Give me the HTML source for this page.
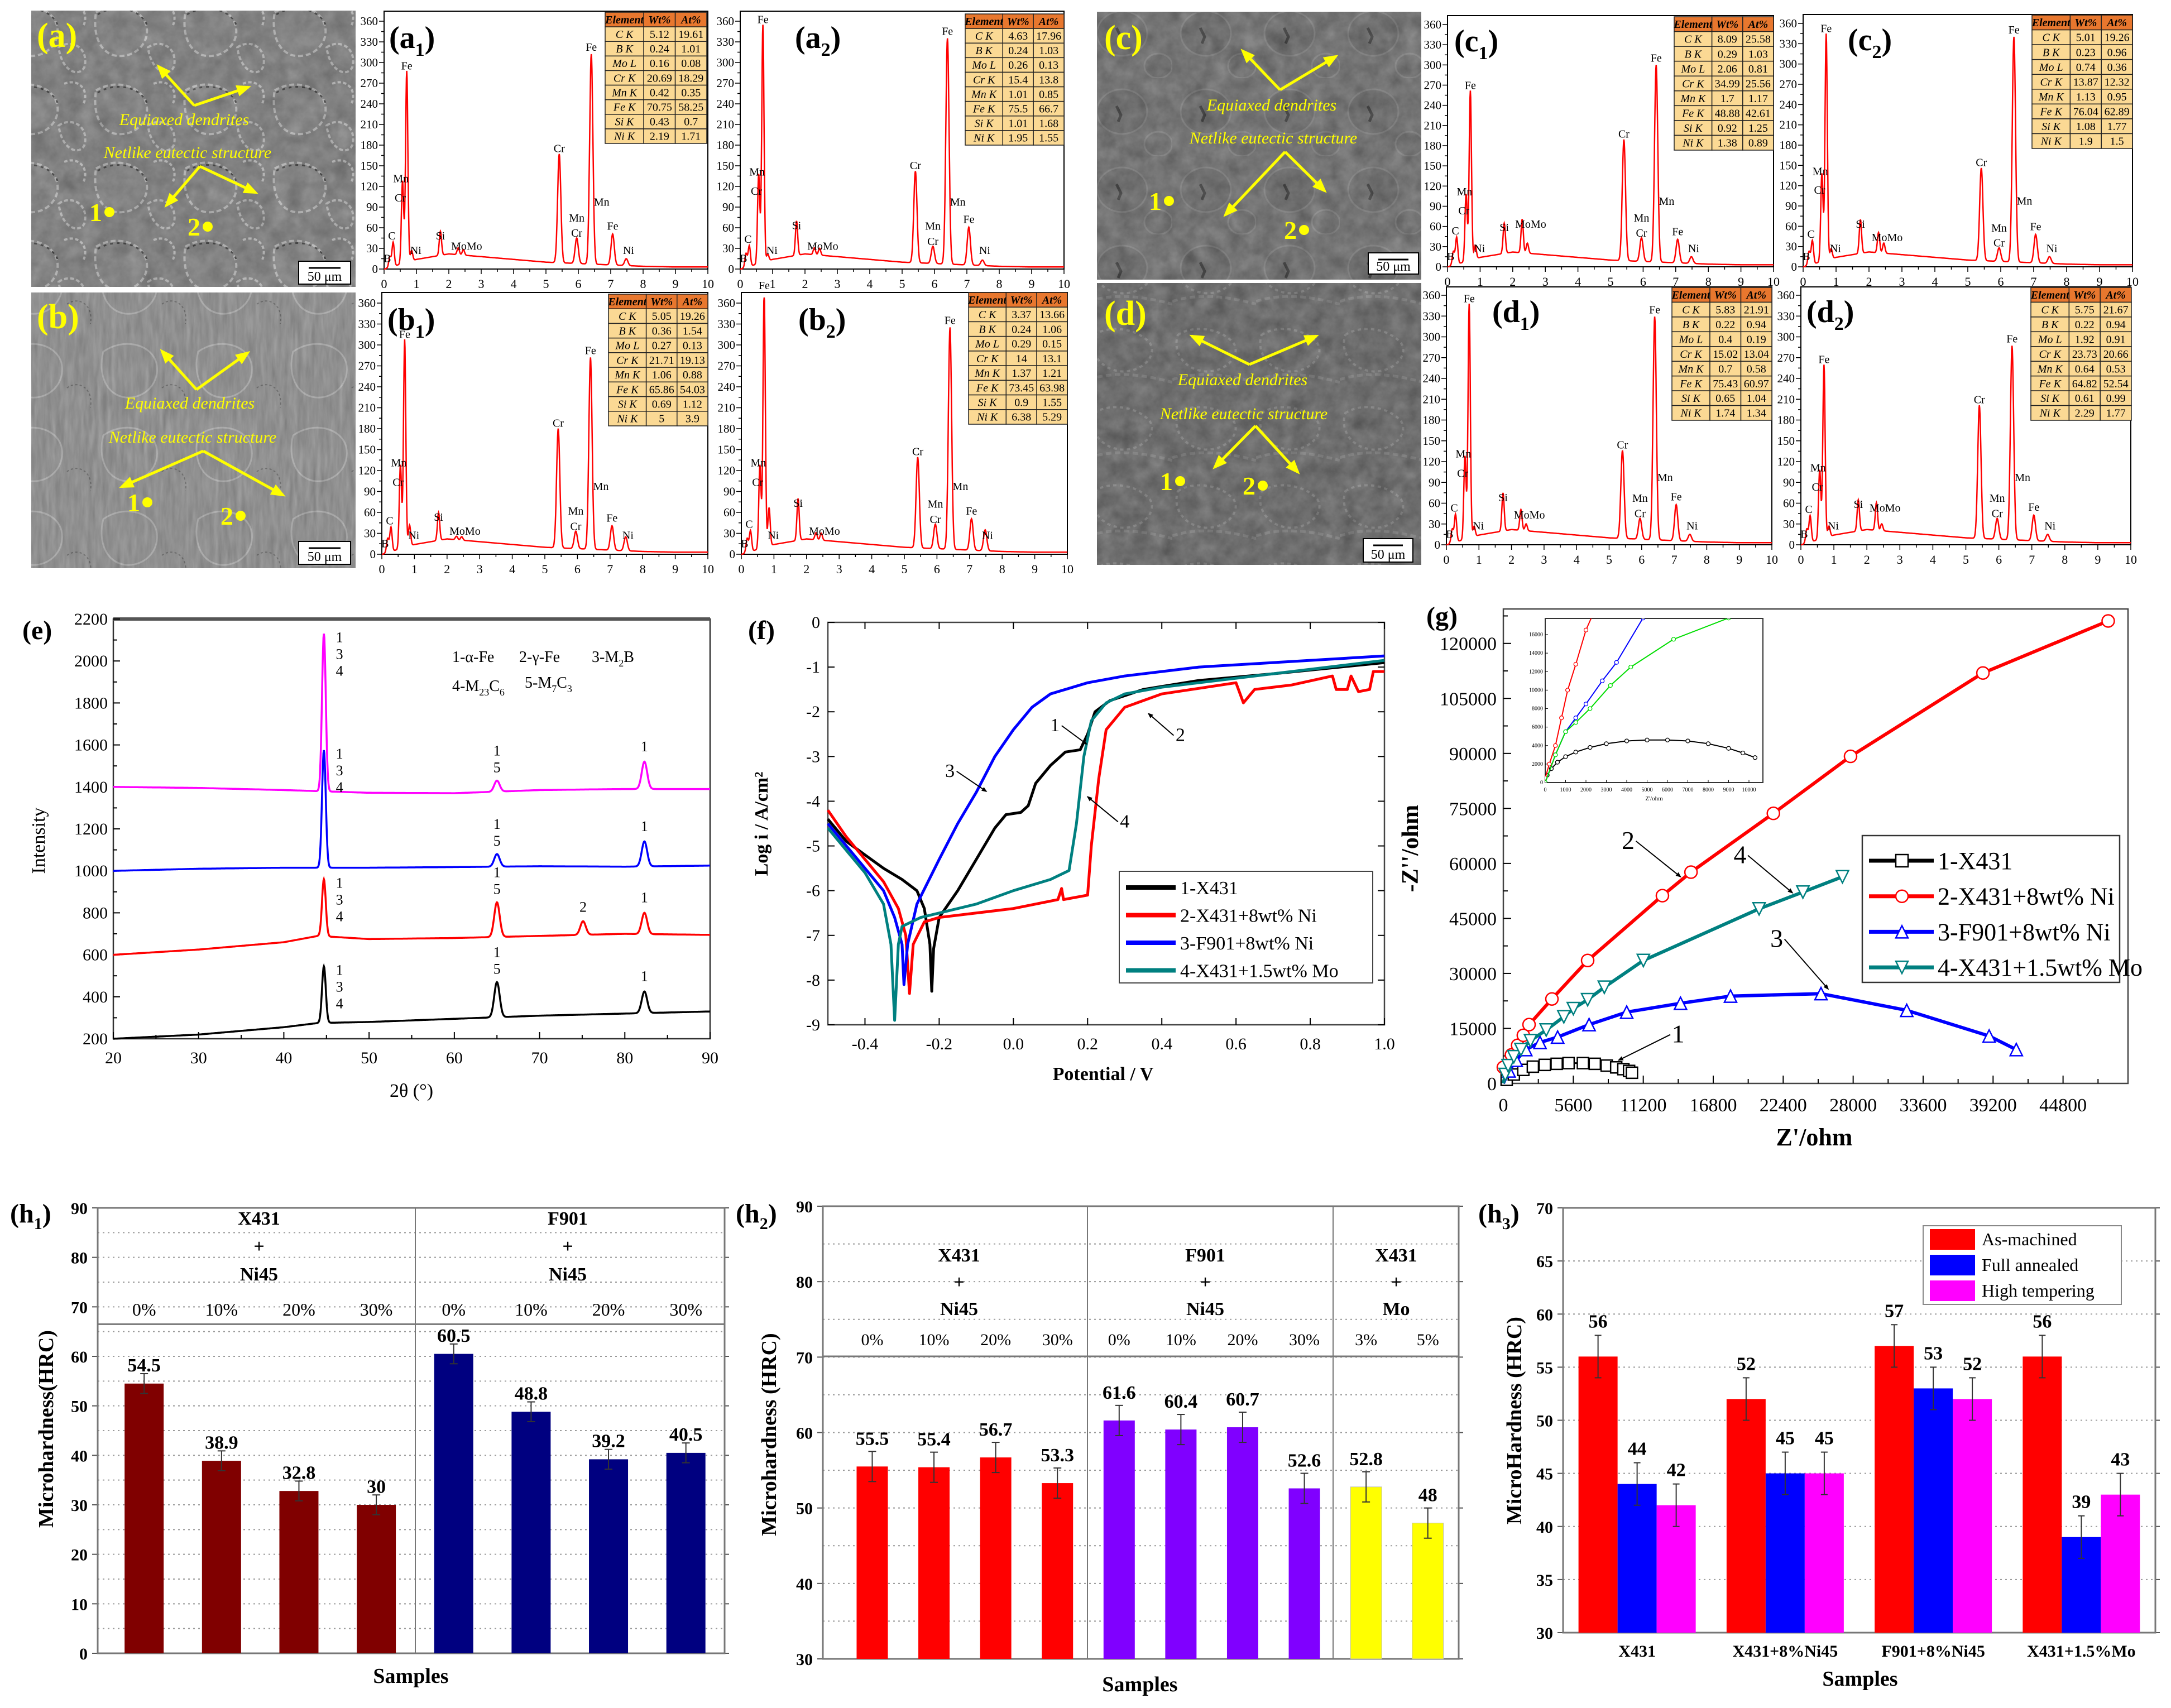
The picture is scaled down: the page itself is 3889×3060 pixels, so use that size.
<!DOCTYPE html>
<html><head><meta charset="utf-8">
<style>html,body{margin:0;padding:0;background:#fff;width:3889px;height:3060px;overflow:hidden}svg{display:block}</style>
</head><body>
<svg id="fig" xmlns="http://www.w3.org/2000/svg" width="3889" height="3060" viewBox="0 0 3889 3060" font-family="'Liberation Serif', serif">
<defs>
<marker id="arrowBlack" markerWidth="10" markerHeight="10" refX="8" refY="5" orient="auto" markerUnits="userSpaceOnUse" viewBox="0 0 10 10"><path d="M0,1 L10,5 L0,9 Z" fill="#000"/></marker>
<marker id="arrowYellow" viewBox="0 0 10 10" markerWidth="26" markerHeight="26" refX="8" refY="5" orient="auto" markerUnits="userSpaceOnUse"><path d="M0,1 L10,5 L0,9 Z" fill="#ffff00"/></marker>
<filter id="noise" x="0" y="0" width="100%" height="100%" color-interpolation-filters="sRGB">
<feTurbulence type="fractalNoise" baseFrequency="0.035" numOctaves="4" seed="7"/>
<feColorMatrix type="matrix" values="0.33 0.33 0.33 0 -0.05  0.33 0.33 0.33 0 -0.05  0.33 0.33 0.33 0 -0.05  0 0 0 0 1"/>
</filter>
<filter id="noiseFine" x="0" y="0" width="100%" height="100%" color-interpolation-filters="sRGB">
<feTurbulence type="fractalNoise" baseFrequency="0.12 0.02" numOctaves="3" seed="11"/>
<feColorMatrix type="matrix" values="0.33 0.33 0.33 0 0  0.33 0.33 0.33 0 0  0.33 0.33 0.33 0 0  0 0 0 0 1"/>
</filter>
<pattern id="semA" width="160" height="140" patternUnits="userSpaceOnUse">
<rect width="160" height="140" fill="#878787"/>
<path d="M12,22 C45,2 88,12 100,40 C112,68 90,98 60,100 C28,104 4,74 12,22Z" fill="#8c8c8c" stroke="#c9c9c9" stroke-width="4" stroke-dasharray="9 5"/>
<path d="M12,22 C45,2 88,12 100,40" fill="none" stroke="#3a3a3a" stroke-width="3" stroke-dasharray="5 7" transform="translate(3,4)"/>
<path d="M105,85 C125,70 158,82 152,118 C146,138 112,134 105,85Z" fill="none" stroke="#c8c8c8" stroke-width="4" stroke-dasharray="7 4"/>
<path d="M115,10 C140,0 160,20 150,45" fill="none" stroke="#cfcfcf" stroke-width="4" stroke-dasharray="6 4"/>
</pattern>
<pattern id="semB" width="170" height="150" patternUnits="userSpaceOnUse">
<rect width="170" height="150" fill="#969696"/>
<path d="M15,30 C50,5 100,15 110,50 C118,85 90,115 55,112 C20,108 5,70 15,30Z" fill="none" stroke="#b8b8b8" stroke-width="3"/>
<path d="M120,95 C140,80 168,95 162,130" fill="none" stroke="#666" stroke-width="2" stroke-dasharray="4 4"/>
</pattern>
<pattern id="semC" width="150" height="140" patternUnits="userSpaceOnUse">
<rect width="150" height="140" fill="#767676"/>
<ellipse cx="60" cy="60" rx="45" ry="40" fill="#6e6e6e" stroke="#888" stroke-width="3"/>
<path d="M50,50 l8,16 l-5,12" stroke="#333" stroke-width="5" fill="none"/>
<ellipse cx="125" cy="118" rx="25" ry="22" fill="#727272" stroke="#8a8a8a" stroke-width="3"/>
</pattern>
<pattern id="semD" width="150" height="140" patternUnits="userSpaceOnUse">
<rect width="150" height="140" fill="#6c6c6c"/>
<path d="M10,40 C40,20 90,30 110,55 C125,80 90,110 55,105 C20,100 0,70 10,40Z" fill="none" stroke="#8e8e8e" stroke-width="4" stroke-dasharray="6 6"/>
<path d="M0,120 Q60,100 150,125" stroke="#858585" stroke-width="5" fill="none" stroke-dasharray="10 6"/>
</pattern>
</defs>
</svg>
<script>
// ---------------- DATA ----------------
const edsEnergies=[0.18,0.28,0.57,0.70,0.85,1.74,2.29,2.45,5.41,5.95,6.40,7.06,7.48];
const edsBackground=[0,14,22,18,14,10,8,6,4,3,3];
const edsPeaksA1=[15,35,120,278,15,35,10,8,158,37,305,45,10];
const edsPeaksA2=[20,30,130,345,10,50,10,10,133,25,328,55,8];
const edsPeaksB1=[20,35,120,298,30,40,5,5,171,25,275,35,20];
const edsPeaksB2=[20,30,120,368,55,60,10,10,130,35,318,45,30];
const edsPeaksC1=[20,40,100,252,20,45,50,15,180,35,293,35,10];
const edsPeaksC2=[20,35,130,335,15,50,30,15,137,20,333,42,10];
const edsPeaksD1=[20,40,120,338,15,55,30,10,127,30,322,52,10];
const edsPeaksD2=[20,38,100,250,15,45,40,10,192,30,280,37,10];
const tableElements=['C  K','B K','Mo L','Cr K','Mn K','Fe K','Si K','Ni K'];
const tabA1=[['5.12','19.61'],['0.24','1.01'],['0.16','0.08'],['20.69','18.29'],['0.42','0.35'],['70.75','58.25'],['0.43','0.7'],['2.19','1.71']];
const tabA2=[['4.63','17.96'],['0.24','1.03'],['0.26','0.13'],['15.4','13.8'],['1.01','0.85'],['75.5','66.7'],['1.01','1.68'],['1.95','1.55']];
const tabB1=[['5.05','19.26'],['0.36','1.54'],['0.27','0.13'],['21.71','19.13'],['1.06','0.88'],['65.86','54.03'],['0.69','1.12'],['5','3.9']];
const tabB2=[['3.37','13.66'],['0.24','1.06'],['0.29','0.15'],['14','13.1'],['1.37','1.21'],['73.45','63.98'],['0.9','1.55'],['6.38','5.29']];
const tabC1=[['8.09','25.58'],['0.29','1.03'],['2.06','0.81'],['34.99','25.56'],['1.7','1.17'],['48.88','42.61'],['0.92','1.25'],['1.38','0.89']];
const tabC2=[['5.01','19.26'],['0.23','0.96'],['0.74','0.36'],['13.87','12.32'],['1.13','0.95'],['76.04','62.89'],['1.08','1.77'],['1.9','1.5']];
const tabD1=[['5.83','21.91'],['0.22','0.94'],['0.4','0.19'],['15.02','13.04'],['0.7','0.58'],['75.43','60.97'],['0.65','1.04'],['1.74','1.34']];
const tabD2=[['5.75','21.67'],['0.22','0.94'],['1.92','0.91'],['23.73','20.66'],['0.64','0.53'],['64.82','52.54'],['0.61','0.99'],['2.29','1.77']];

const xrdPeakPos=[44.7,65.0,75.1,82.3];
const xrdBasePos=[20,30,40,44,50,60,70,80,90];
const xrdMagentaBase=[1400,1395,1385,1380,1372,1370,1385,1390,1390];
const xrdMagentaTops=[2130,1430,0,1520];
const xrdBlueBase=[1000,1010,1015,1015,1015,1018,1022,1020,1025];
const xrdBlueTops=[1575,1080,0,1140];
const xrdRedBase=[600,625,660,690,675,680,690,700,695];
const xrdRedTops=[960,850,760,800];
const xrdBlackBase=[200,220,255,275,280,295,310,320,330];
const xrdBlackTops=[545,470,0,425];
const xrdXTicks=[20,30,40,50,60,70,80,90];
const xrdYTicks=[200,400,600,800,1000,1200,1400,1600,1800,2000,2200];

const polBlackE=[-0.5,-0.45,-0.4,-0.35,-0.3,-0.26,-0.24,-0.225,-0.22,-0.215,-0.2,-0.15,-0.1,-0.05,-0.02,0.02,0.04,0.06,0.1,0.14,0.18,0.2,0.22,0.26,0.35,0.5,0.7,1.0];
const polBlackI=[-4.4,-4.9,-5.2,-5.5,-5.75,-6.0,-6.4,-7.2,-8.25,-7.3,-6.6,-6.0,-5.3,-4.6,-4.3,-4.25,-4.1,-3.6,-3.2,-2.9,-2.85,-2.5,-2.0,-1.75,-1.5,-1.3,-1.15,-0.9];
const polRedE=[-0.5,-0.45,-0.4,-0.35,-0.31,-0.29,-0.28,-0.27,-0.24,-0.2,0.0,0.12,0.13,0.135,0.2,0.21,0.23,0.25,0.3,0.4,0.6,0.62,0.65,0.75,0.86,0.87,0.9,0.91,0.93,0.96,0.97,1.0];
const polRedI=[-4.2,-4.8,-5.3,-5.8,-6.4,-7.0,-8.3,-7.2,-6.7,-6.6,-6.4,-6.2,-5.95,-6.2,-6.1,-5.0,-3.5,-2.4,-1.9,-1.6,-1.35,-1.8,-1.5,-1.4,-1.2,-1.5,-1.5,-1.2,-1.55,-1.5,-1.1,-1.1];
const polBlueE=[-0.5,-0.45,-0.4,-0.35,-0.32,-0.3,-0.295,-0.285,-0.26,-0.2,-0.15,-0.1,-0.05,0.0,0.05,0.1,0.2,0.3,0.5,0.7,1.0];
const polBlueI=[-4.5,-5.0,-5.5,-6.0,-6.6,-7.2,-8.1,-7.2,-6.3,-5.3,-4.5,-3.8,-3.0,-2.4,-1.9,-1.6,-1.35,-1.2,-1.0,-0.9,-0.75];
const polTealE=[-0.5,-0.45,-0.4,-0.35,-0.33,-0.32,-0.31,-0.3,-0.25,-0.1,0.0,0.1,0.15,0.17,0.19,0.21,0.25,0.3,0.4,0.6,0.8,1.0];
const polTealI=[-4.6,-5.1,-5.6,-6.3,-7.2,-8.9,-7.2,-6.8,-6.6,-6.3,-6.0,-5.75,-5.55,-4.5,-3.0,-2.2,-1.8,-1.6,-1.45,-1.25,-1.05,-0.85];
const polXTicks=[-0.4,-0.2,0.0,0.2,0.4,0.6,0.8,1.0];
const polYTicks=[0,-1,-2,-3,-4,-5,-6,-7,-8,-9];

const eisBlackX=[267,839,1601,2363,3316,4269,5222,6366,7319,8272,9034,9606,10064,10293];
const eisBlackY=[972,2429,3692,4567,5053,5344,5539,5539,5344,4858,4373,3887,3401,2915];
const eisRedX=[0,648,1144,1601,2058,3888,6747,12732,15019,21614,27790,38387,48412];
const eisRedY=[4373,7774,10397,13118,16033,23029,33524,51207,57622,73655,89201,111940,126127];
const eisBlueX=[0,457,1029,1792,2935,4346,6862,9873,14181,18183,25426,32288,38883,41056];
const eisBlueY=[0,3401,6316,9231,11175,12632,16033,19434,21864,23807,24487,19920,12924,9231];
const eisTealX=[0,152,381,839,1410,2173,3431,4841,5603,6747,8082,11207,20471,23978,27142];
const eisTealY=[0,2429,4858,7288,9231,11660,14576,18171,20406,22835,26236,33524,47614,52181,56359];
const eisXTicks=[0,5600,11200,16800,22400,28000,33600,39200,44800];
const eisYTicks=[0,15000,30000,45000,60000,75000,90000,105000,120000];
const insetBlackX=[0,100,300,600,1000,1500,2200,3000,4000,5000,6000,7000,8000,9000,9700,10300];
const insetBlackY=[0,800,1500,2200,2800,3300,3800,4200,4500,4600,4600,4500,4200,3700,3200,2700];
const insetRedX=[0,200,500,800,1100,1500,2000,2500];
const insetRedY=[500,2000,4000,7000,10000,12800,16500,19000];
const insetBlueX=[0,500,1000,1500,2000,2800,3500,4800];
const insetBlueY=[0,3000,5500,7000,8500,11000,13000,17800];
const insetGreenX=[0,500,1000,1500,2200,3200,4200,6300,9000];
const insetGreenY=[0,3000,5500,6500,8000,10500,12500,15500,17800];

const h1Categories=['0%','10%','20%','30%','0%','10%','20%','30%'];
const h1Values=[54.5,38.9,32.8,30,60.5,48.8,39.2,40.5];
const h1Errors=[2,2,2,2,2,2,2,2];
const h1Ticks=[0,10,20,30,40,50,60,70,80,90];
const h2Categories=['0%','10%','20%','30%','0%','10%','20%','30%','3%','5%'];
const h2Values=[55.5,55.4,56.7,53.3,61.6,60.4,60.7,52.6,52.8,48];
const h2Errors=[2,2,2,2,2,2,2,2,2,2];
const h2Ticks=[30,40,50,60,70,80,90];
const h3Groups=['X431','X431+8%Ni45','F901+8%Ni45','X431+1.5%Mo'];
const h3AsMachined=[56,52,57,56];
const h3FullAnnealed=[44,45,53,39];
const h3HighTempering=[42,45,52,43];
const h3Errors=[2,2,2,2];
const h3Ticks=[30,35,40,45,50,55,60,65,70];

// ---------------- HELPERS ----------------
const NS='http://www.w3.org/2000/svg';
const root=document.getElementById('fig');
function mk(tag,attrs,name,parent,txt){
  const el=document.createElementNS(NS,tag);
  for(const k in attrs) el.setAttribute(k,attrs[k]);
  
  
  if(txt!==undefined) el.textContent=txt;
  (parent||root).appendChild(el);
  return el;
}
function lin(d0,d1,r0,r1){return v=>r0+(v-d0)*(r1-r0)/(d1-d0);}
function interp(xs,ys,x){
  if(x<=xs[0]) return ys[0];
  for(let i=0;i<xs.length-1;i++){ if(x<=xs[i+1]){const t=(x-xs[i])/(xs[i+1]-xs[i]);return ys[i]+t*(ys[i+1]-ys[i]);} }
  return ys[ys.length-1];
}
function txt(p,name,x,y,s,size,extra){const a={x:x,y:y,'font-size':size};Object.assign(a,extra||{});return mk('text',a,name,p,s);}
function ln(p,name,x1,y1,x2,y2,stroke,w,extra){const a={x1:x1,y1:y1,x2:x2,y2:y2,stroke:stroke,'stroke-width':w};Object.assign(a,extra||{});return mk('line',a,name,p);}
function pathFrom(pts){return 'M'+pts.map(p=>p[0].toFixed(1)+','+p[1].toFixed(1)).join('L');}

// ---------------- SEM IMAGES ----------------
function sem(cfg){
  const g=mk('g',{},'sem-image-'+cfg.id);
  mk('rect',{x:cfg.x,y:cfg.y,width:cfg.w,height:cfg.h,fill:'url(#'+cfg.pat+')'},'sem-micrograph',g);
  mk('rect',{x:cfg.x,y:cfg.y,width:cfg.w,height:cfg.h,filter:cfg.id==='b'?'url(#noiseFine)':'url(#noise)',opacity:cfg.nop},'sem-texture',g);
  txt(g,'panel-label',cfg.lx,cfg.ly,'('+cfg.id+')',62,{fill:'#ffff00','font-weight':'bold'});
  cfg.arrows.forEach(a=>{ln(g,'yellow-arrow',a[0],a[1],a[2],a[3],'#ffff00',5,{'marker-end':'url(#arrowYellow)'});});
  txt(g,'equiaxed-dendrites-label',cfg.t1[0],cfg.t1[1],'Equiaxed dendrites',30,{fill:'#ffff00','font-style':'italic','text-anchor':'middle'});
  txt(g,'netlike-eutectic-label',cfg.t2[0],cfg.t2[1],'Netlike eutectic structure',30,{fill:'#ffff00','font-style':'italic','text-anchor':'middle'});
  txt(g,'point-1-label',cfg.p1[0],cfg.p1[1],'1',46,{fill:'#ffff00','font-weight':'bold'});
  mk('circle',{cx:cfg.p1[0]+36,cy:cfg.p1[1]-16,r:9,fill:'#ffff00'},'point-1-marker',g);
  txt(g,'point-2-label',cfg.p2[0],cfg.p2[1],'2',46,{fill:'#ffff00','font-weight':'bold'});
  mk('circle',{cx:cfg.p2[0]+36,cy:cfg.p2[1]-16,r:9,fill:'#ffff00'},'point-2-marker',g);
  const sb=cfg.sb;
  mk('rect',{x:sb[0],y:sb[1],width:sb[2],height:sb[3],fill:'#fff',stroke:'#000','stroke-width':2},'scale-bar-box',g);
  ln(g,'scale-bar',sb[0]+18,sb[1]+12,sb[0]+sb[2]-18,sb[1]+12,'#000',3);
  txt(g,'scale-bar-label',sb[0]+sb[2]/2,sb[1]+sb[3]-6,'50 μm',24,{'text-anchor':'middle'});
}
sem({id:'a',pat:'semA',nop:0.3,x:56,y:19,w:581,h:495,lx:66,ly:84,arrows:[[348,189,284,119],[348,189,445,156],[358,298,298,368],[358,298,458,345]],t1:[330,224],t2:[336,283],p1:[160,396],p2:[336,422],sb:[535,468,93,41]});
sem({id:'b',pat:'semB',nop:0.25,x:56,y:524,w:581,h:494,lx:66,ly:588,arrows:[[352,698,290,629],[352,698,444,632],[364,808,218,872],[364,808,507,887]],t1:[340,732],t2:[345,793],p1:[228,916],p2:[395,940],sb:[535,970,93,41]});
sem({id:'c',pat:'semC',nop:0.35,x:1965,y:21,w:581,h:480,lx:1978,ly:88,arrows:[[2293,161,2226,91],[2293,161,2393,101],[2302,272,2195,385],[2302,272,2373,342]],t1:[2278,198],t2:[2281,257],p1:[2058,376],p2:[2300,428],sb:[2451,453,90,38]});
sem({id:'d',pat:'semD',nop:0.35,x:1965,y:507,w:581,h:505,lx:1978,ly:582,arrows:[[2238,653,2135,602],[2238,653,2358,602],[2249,763,2176,837],[2249,763,2325,846]],t1:[2226,690],t2:[2228,751],p1:[2078,878],p2:[2226,886],sb:[2442,965,89,42]});

// ---------------- EDS SPECTRA ----------------
function drawEDS(geo,peaks,tab){
  const g=mk('g',{},'eds-spectrum-'+geo.id);
  const sx=lin(0,10,geo.L,geo.R), sy=lin(0,360,geo.B0,geo.T0);
  mk('rect',{x:geo.L,y:geo.F,width:geo.R-geo.L,height:geo.B0-geo.F,fill:'#fff',stroke:'#000','stroke-width':2},'plot-frame',g);
  for(let v=0;v<=360;v+=15){const y=sy(v);const maj=v%30===0;ln(g,'y-tick',geo.L-(maj?9:5),y,geo.L,y,'#000',1.5);if(maj)txt(g,'y-tick-label',geo.L-11,y+7,String(v),21,{'text-anchor':'end'});}
  for(let v=0;v<=10;v+=0.5){const x=sx(v);const maj=v%1===0;ln(g,'x-tick',x,geo.B0,x,geo.B0+(maj?9:5),'#000',1.5);if(maj)txt(g,'x-tick-label',x,geo.B0+34,String(v),22,{'text-anchor':'middle'});}
  const pts=[];
  for(let i=0;i<=1000;i++){
    const e=i/100;
    let c=interp([0,1,2,3,4,5,6,7,8,9,10],edsBackground,e);
    for(let k=0;k<edsEnergies.length;k++){const s=edsEnergies[k]<3?0.035:0.05;c+=peaks[k]*Math.exp(-0.5*Math.pow((e-edsEnergies[k])/s,2));}
    if(e<0.08) c=c*e/0.08;
    pts.push([sx(e),sy(Math.min(c,368))]);
  }
  mk('path',{d:pathFrom(pts),fill:'none',stroke:'#ff0000','stroke-width':2.5},'spectrum-line',g);
  const L=[['Fe',0.70,peaks[3]+12],['Mn',0.52,peaks[2]+6],['Cr',0.50,peaks[2]-22],['C',0.24,peaks[1]+8],['B',0.10,10],['Ni',0.98,22],['Si',1.74,peaks[5]+8],['MoMo',2.55,Math.max(peaks[6],20)+8],['Cr',5.41,peaks[8]+12],['Mn',5.95,peaks[9]+32],['Cr',5.95,peaks[9]+10],['Fe',6.40,peaks[10]+12],['Mn',6.72,92],['Fe',7.06,peaks[11]+12],['Ni',7.55,22]];
  L.forEach(l=>{txt(g,'peak-label-'+l[0].toLowerCase(),sx(l[1]),sy(l[2]),l[0],20,{'text-anchor':'middle'});});
  const t=geo.tab, tg=mk('g',{},'eds-composition-table',g);
  const rh=t[3]/9, cw=[t[2]*0.38,t[2]*0.31,t[2]*0.31];
  const head=['Element','Wt%','At%'];
  for(let r=0;r<9;r++){
    let cx=t[0];
    for(let c=0;c<3;c++){
      mk('rect',{x:cx,y:t[1]+r*rh,width:cw[c],height:rh,fill:r===0?'#e8772e':'#fbd994',stroke:'#222','stroke-width':1.5},'table-cell',tg);
      const s=r===0?head[c]:(c===0?tableElements[r-1]:tab[r-1][c-1]);
      txt(tg,r===0?'table-header':'table-value',cx+cw[c]/2,t[1]+r*rh+rh*0.76,s,20,{'text-anchor':'middle','font-style':(r===0||c===0)?'italic':'normal','font-weight':r===0?'bold':'normal'});
      cx+=cw[c];
    }
  }
  const lab=txt(g,'panel-label',geo.lx,geo.T0+48,'('+geo.id[0],56,{'font-weight':'bold'});
  mk('tspan',{dy:14,'font-size':34},'panel-label-subscript',lab,geo.id[1]);
  mk('tspan',{dy:-14,'font-size':56},'panel-label-close',lab,')');
}
drawEDS({id:'a1',L:688,R:1268,T0:38,B0:482,F:20,tab:[1084,22,182,235],lx:697},edsPeaksA1,tabA1);
drawEDS({id:'a2',L:1326,R:1906,T0:38,B0:482,F:20,tab:[1729,25,177,235],lx:1424},edsPeaksA2,tabA2);
drawEDS({id:'b1',L:684,R:1268,T0:543,B0:993,F:524,tab:[1090,527,178,236],lx:694},edsPeaksB1,tabB1);
drawEDS({id:'b2',L:1328,R:1912,T0:543,B0:993,F:524,tab:[1735,524,177,236],lx:1430},edsPeaksB2,tabB2);
drawEDS({id:'c1',L:2593,R:3177,T0:44,B0:478,F:28,tab:[2999,30,178,239],lx:2605},edsPeaksC1,tabC1);
drawEDS({id:'c2',L:3230,R:3820,T0:42,B0:478,F:26,tab:[3640,27,180,239],lx:3310},edsPeaksC2,tabC2);
drawEDS({id:'d1',L:2591,R:3174,T0:529,B0:976,F:514,tab:[2995,515,179,238],lx:2673},edsPeaksD1,tabD1);
drawEDS({id:'d2',L:3226,R:3817,T0:529,B0:976,F:514,tab:[3638,515,180,238],lx:3236},edsPeaksD2,tabD2);

// ---------------- XRD (e) ----------------
(function(){
  const g=mk('g',{},'xrd-chart');
  const L=203,R=1272,T=1109,B=1861;
  const sx=lin(20,90,L,R), sy=lin(200,2200,B,T);
  mk('rect',{x:L,y:T,width:R-L,height:B-T,fill:'none',stroke:'#333','stroke-width':2.5},'plot-frame',g);
  ln(g,'top-border',L,T,R,T,'#555',6);
  xrdXTicks.forEach(v=>{ln(g,'x-tick',sx(v),B,sx(v),B-12,'#000',2);txt(g,'x-tick-label',sx(v),B+44,String(v),30,{'text-anchor':'middle'});});
  for(let v=25;v<90;v+=10) ln(g,'x-minor-tick',sx(v),B,sx(v),B-7,'#000',2);
  xrdYTicks.forEach(v=>{ln(g,'y-tick',L,sy(v),L+12,sy(v),'#000',2);txt(g,'y-tick-label',L-10,sy(v)+10,String(v),30,{'text-anchor':'end'});});
  for(let v=300;v<2200;v+=200) ln(g,'y-minor-tick',L,sy(v),L+7,sy(v),'#000',2);
  txt(g,'panel-label',40,1145,'(e)',48,{'font-weight':'bold'});
  txt(g,'y-axis-title',80,1506,'Intensity',34,{'text-anchor':'middle',transform:'rotate(-90 80 1506)'});
  txt(g,'x-axis-title',737,1965,'2θ (°)',34,{'text-anchor':'middle'});
  txt(g,'phase-legend-1',810,1186,'1-α-Fe',28);
  txt(g,'phase-legend-2',930,1186,'2-γ-Fe',28);
  const p3=txt(g,'phase-legend-3',1060,1186,'3-M',28);mk('tspan',{dy:8,'font-size':18},'subscript',p3,'2');mk('tspan',{dy:-8},'rest',p3,'B');
  const p4=txt(g,'phase-legend-4',810,1238,'4-M',28);mk('tspan',{dy:8,'font-size':18},'subscript',p4,'23');mk('tspan',{dy:-8},'rest',p4,'C');mk('tspan',{dy:8,'font-size':18},'subscript',p4,'6');
  const p5=txt(g,'phase-legend-5',940,1232,'5-M',28);mk('tspan',{dy:8,'font-size':18},'subscript',p5,'7');mk('tspan',{dy:-8},'rest',p5,'C');mk('tspan',{dy:8,'font-size':18},'subscript',p5,'3');
  const series=[['magenta',xrdMagentaBase,xrdMagentaTops,'#ff00ff'],['blue',xrdBlueBase,xrdBlueTops,'#0000ff'],['red',xrdRedBase,xrdRedTops,'#ff0000'],['black',xrdBlackBase,xrdBlackTops,'#000000']];
  series.forEach(s=>{
    const pts=[];
    for(let i=0;i<=1400;i++){
      const t=20+i*0.05;let y=interp(xrdBasePos,s[1],t);
      for(let k=0;k<xrdPeakPos.length;k++){ if(s[2][k]>0){const amp=s[2][k]-interp(xrdBasePos,s[1],xrdPeakPos[k]);const w=k===0?0.22:0.32;y+=amp*Math.exp(-0.5*Math.pow((t-xrdPeakPos[k])/w,2));}}
      pts.push([sx(t),sy(y)]);
    }
    mk('path',{d:pathFrom(pts),fill:'none',stroke:s[3],'stroke-width':3.5},'xrd-trace-'+s[0],g);
    const top0=s[2][0];
    ['1','3','4'].forEach((d,j)=>txt(g,'peak-index-label',sx(46.1),sy(top0-40-j*80),d,26));
    ['1','5'].forEach((d,j)=>txt(g,'peak-index-label',sx(65),sy(s[2][1]+120-j*80),d,26,{'text-anchor':'middle'}));
    if(s[2][2]>0) txt(g,'peak-index-label',sx(75.1),sy(s[2][2]+45),'2',26,{'text-anchor':'middle'});
    txt(g,'peak-index-label',sx(82.3),sy(s[2][3]+50),'1',26,{'text-anchor':'middle'});
  });
})();

// ---------------- POLARIZATION (f) ----------------
(function(){
  const g=mk('g',{},'polarization-chart');
  const L=1483,R=2480,T=1115,B=1836;
  const sx=lin(-0.5,1.0,L,R), sy=lin(0,-9,T,B);
  mk('rect',{x:L,y:T,width:R-L,height:B-T,fill:'none',stroke:'#444','stroke-width':2.5},'plot-frame',g);
  polXTicks.forEach(v=>{ln(g,'x-tick',sx(v),B,sx(v),B-12,'#000',2);ln(g,'x-tick-top',sx(v),T,sx(v),T+12,'#000',2);txt(g,'x-tick-label',sx(v),B+44,v.toFixed(1),30,{'text-anchor':'middle'});});
  polYTicks.forEach(v=>{ln(g,'y-tick',L,sy(v),L+12,sy(v),'#000',2);ln(g,'y-tick-right',R,sy(v),R-12,sy(v),'#000',2);txt(g,'y-tick-label',L-14,sy(v)+10,String(v),30,{'text-anchor':'end'});});
  txt(g,'panel-label',1340,1145,'(f)',48,{'font-weight':'bold'});
  txt(g,'y-axis-title',1375,1476,'Log i / A/cm²',34,{'text-anchor':'middle','font-weight':'bold',transform:'rotate(-90 1375 1476)'});
  txt(g,'x-axis-title',1976,1935,'Potential / V',34,{'text-anchor':'middle','font-weight':'bold'});
  const series=[['1-X431',polBlackE,polBlackI,'#000000'],['2-X431+8wt% Ni',polRedE,polRedI,'#ff0000'],['3-F901+8wt% Ni',polBlueE,polBlueI,'#0000ff'],['4-X431+1.5wt% Mo',polTealE,polTealI,'#008080']];
  series.forEach(s=>{mk('path',{d:pathFrom(s[1].map((e,i)=>[sx(e),sy(s[2][i])])),fill:'none',stroke:s[3],'stroke-width':5,'stroke-linejoin':'round'},'polarization-curve',g);});
  mk('rect',{x:2005,y:1561,width:454,height:200,fill:'#fff',stroke:'#444','stroke-width':2},'legend-box',g);
  series.forEach((s,i)=>{const y=1590+i*49.5;ln(g,'legend-line',2017,y,2106,y,s[3],8);txt(g,'legend-text',2114,y+12,s[0],34);});
  const ann=[['1',0.112,-2.31,0.197,-2.72],['2',0.45,-2.53,0.364,-2.04],['3',-0.171,-3.33,-0.073,-3.78],['4',0.30,-4.46,0.20,-3.9]];
  ann.forEach(a=>{txt(g,'curve-number-label',sx(a[1]),sy(a[2])+10,a[0],34,{'text-anchor':'middle'});ln(g,'curve-pointer-arrow',sx(a[1])+(a[3]>a[1]?12:-12),sy(a[2]),sx(a[3]),sy(a[4]),'#000',2,{'marker-end':'url(#arrowBlack)'});});
})();

// ---------------- EIS (g) ----------------
function marker(p,type,x,y,s,color){
  if(type==='square') return mk('rect',{x:x-s/2,y:y-s/2,width:s,height:s,fill:'#fff',stroke:color,'stroke-width':2.5},'marker-square',p);
  if(type==='circle') return mk('circle',{cx:x,cy:y,r:s/2,fill:'#fff',stroke:color,'stroke-width':2.5},'marker-circle',p);
  if(type==='up') return mk('path',{d:`M${x},${y-s/2}L${x+s/2},${y+s/2}L${x-s/2},${y+s/2}Z`,fill:'#fff',stroke:color,'stroke-width':2.5},'marker-triangle-up',p);
  return mk('path',{d:`M${x},${y+s/2}L${x+s/2},${y-s/2}L${x-s/2},${y-s/2}Z`,fill:'#fff',stroke:color,'stroke-width':2.5},'marker-triangle-down',p);
}
(function(){
  const g=mk('g',{},'eis-nyquist-chart');
  const L=2693,R=3812,T=1091,B=1941;
  const sx=lin(0,50000,L,R), sy=lin(0,129400,B,T);
  mk('rect',{x:L,y:T,width:R-L,height:B-T,fill:'none',stroke:'#444','stroke-width':2.5},'plot-frame',g);
  eisXTicks.forEach(v=>{ln(g,'x-tick',sx(v),B,sx(v),B-14,'#000',2);txt(g,'x-tick-label',sx(v),B+50,String(v),34,{'text-anchor':'middle'});});
  for(let v=2800;v<50000;v+=5600) ln(g,'x-minor-tick',sx(v),B,sx(v),B-8,'#000',2);
  eisYTicks.forEach(v=>{ln(g,'y-tick',L,sy(v),L+14,sy(v),'#000',2);txt(g,'y-tick-label',L-12,sy(v)+12,String(v),34,{'text-anchor':'end'});});
  for(let v=7500;v<129000;v+=15000) ln(g,'y-minor-tick',L,sy(v),L+8,sy(v),'#000',2);
  txt(g,'panel-label',2555,1120,'(g)',48,{'font-weight':'bold'});
  txt(g,'y-axis-title',2540,1520,"-Z''/ohm",42,{'text-anchor':'middle','font-weight':'bold',transform:'rotate(-90 2540 1520)'});
  txt(g,'x-axis-title',3250,2052,"Z'/ohm",44,{'text-anchor':'middle','font-weight':'bold'});
  const series=[['1-X431',eisBlackX,eisBlackY,'#000000','square',20],['2-X431+8wt% Ni',eisRedX,eisRedY,'#ff0000','circle',22],['3-F901+8wt% Ni',eisBlueX,eisBlueY,'#0000ff','up',22],['4-X431+1.5wt% Mo',eisTealX,eisTealY,'#008080','down',22]];
  series.forEach(s=>{
    const sg=mk('g',{},'eis-series',g);
    mk('path',{d:pathFrom(s[1].map((v,i)=>[sx(v),sy(s[2][i])])),fill:'none',stroke:s[3],'stroke-width':s[4]==='square'?3:6},'eis-line',sg);
    s[1].forEach((v,i)=>{ if(s[4]!=='square'&&i===0&&s[2][i]===0) return; marker(sg,s[4],sx(v),sy(s[2][i]),s[5],s[3]);});
  });
  mk('rect',{x:3336,y:1497,width:461,height:263,fill:'#fff',stroke:'#333','stroke-width':2.5},'legend-box',g);
  series.forEach((s,i)=>{const y=1542+i*63.7;ln(g,'legend-line',3348,y,3464,y,s[3],7);marker(g,s[4],3407,y,22,s[3]);txt(g,'legend-text',3471,y+15,s[0],44);});
  const ann=[['1',13990,13310,9225,6316],['2',9988,66090,14181,56360],['3',21880,39350,26000,25750],['4',18946,62190,23140,51980]];
  ann.forEach(a=>{txt(g,'curve-number-label',sx(a[1]),sy(a[2])+14,a[0],46,{'text-anchor':'middle'});ln(g,'curve-pointer-arrow',sx(a[1])+(a[3]>a[1]?14:-14),sy(a[2]),sx(a[3]),sy(a[4]),'#000',2,{'marker-end':'url(#arrowBlack)'});});
  const ig=mk('g',{},'eis-inset',g);
  const iL=2768,iR=3158,iT=1108,iB=1402;
  const ix=lin(0,10000,iL,3133), iy=lin(0,16000,iB,1137);
  mk('rect',{x:iL,y:iT,width:iR-iL,height:iB-iT,fill:'#fff',stroke:'#333','stroke-width':2},'inset-frame',ig);
  for(let v=0;v<=10000;v+=1000){ln(ig,'inset-x-tick',ix(v),iB,ix(v),iB-5,'#000',1);txt(ig,'inset-x-tick-label',ix(v),iB+16,String(v),10,{'text-anchor':'middle'});}
  for(let v=0;v<=16000;v+=2000){ln(ig,'inset-y-tick',iL,iy(v),iL+5,iy(v),'#000',1);txt(ig,'inset-y-tick-label',iL-4,iy(v)+3,String(v),10,{'text-anchor':'end'});}
  txt(ig,'inset-x-title',2963,iB+32,"Z'/ohm",11,{'text-anchor':'middle'});
  mk('clipPath',{id:'insetClip'},'inset-clip',ig);
  mk('rect',{x:iL,y:iT,width:iR-iL,height:iB-iT},'inset-clip-rect',document.getElementById('insetClip'));
  const iseries=[[insetBlackX,insetBlackY,'#000000'],[insetRedX,insetRedY,'#ff0000'],[insetBlueX,insetBlueY,'#0000ff'],[insetGreenX,insetGreenY,'#00dd00']];
  iseries.forEach(s=>{
    const cg=mk('g',{'clip-path':'url(#insetClip)'},'inset-series',ig);
    mk('path',{d:pathFrom(s[0].map((v,i)=>[ix(v),iy(s[1][i])])),fill:'none',stroke:s[2],'stroke-width':2},'inset-line',cg);
    s[0].forEach((v,i)=>mk('circle',{cx:ix(v),cy:iy(s[1][i]),r:3.5,fill:'#fff',stroke:s[2],'stroke-width':1.3},'inset-marker',cg));
  });
})();

// ---------------- BAR CHARTS (h1,h2,h3) ----------------
function barFrame(g,L,R,sy,ticks,minorStep,yMin,yMax){
  for(let v=yMin+minorStep;v<yMax;v+=minorStep) ln(g,'grid-line',L,sy(v),R,sy(v),'#999',2,{'stroke-dasharray':'3 6'});
  ticks.forEach(v=>{ln(g,'y-tick',L,sy(v),L-10,sy(v),'#555',2);ln(g,'y-tick-right',R,sy(v),R+8,sy(v),'#555',2);txt(g,'y-tick-label',L-18,sy(v)+11,String(v),30,{'text-anchor':'end','font-weight':'bold'});});
  mk('rect',{x:L,y:sy(yMax),width:R-L,height:sy(yMin)-sy(yMax),fill:'none',stroke:'#777','stroke-width':3},'plot-frame',g);
}
function errBar(g,x,yTop,yBot,w){ln(g,'error-bar',x,yTop,x,yBot,'#333',2);ln(g,'error-cap',x-w,yTop,x+w,yTop,'#333',2);ln(g,'error-cap',x-w,yBot,x+w,yBot,'#333',2);}
(function(){
  const g=mk('g',{},'hardness-chart-h1');
  const L=175,R=1298,sy=lin(0,90,2962,2164),W=R-L;
  barFrame(g,L,R,sy,h1Ticks,5,0,90);
  ln(g,'group-divider',744,2164,744,2962,'#777',2);
  ln(g,'header-divider',L,sy(66.5),R,sy(66.5),'#777',3);
  h1Values.forEach((v,i)=>{
    const cx=L+(i+0.6)*W/8.1;const col=i<4?'#800000':'#000080';
    mk('rect',{x:cx-35,y:sy(v),width:70,height:sy(0)-sy(v),fill:col},'bar-h1-'+i,g);
    errBar(g,cx,sy(v+h1Errors[i]),sy(v-h1Errors[i]),7);
    txt(g,'bar-value-label',cx,sy(v+h1Errors[i])-4,String(v),34,{'text-anchor':'middle','font-weight':'bold'});
    txt(g,'category-label',cx,2357,h1Categories[i],32,{'text-anchor':'middle'});
  });
  [['X431',464],['F901',1017]].forEach(a=>{txt(g,'group-title',a[1],2194,a[0],34,{'text-anchor':'middle','font-weight':'bold'});txt(g,'group-plus',a[1],2244,'+',34,{'text-anchor':'middle','font-weight':'bold'});txt(g,'group-title-ni45',a[1],2294,'Ni45',34,{'text-anchor':'middle','font-weight':'bold'});});
  const pl=txt(g,'panel-label',18,2190,'(h',48,{'font-weight':'bold'});mk('tspan',{dy:12,'font-size':30},'subscript',pl,'1');mk('tspan',{dy:-12},'close',pl,')');
  txt(g,'y-axis-title',95,2560,'Microhardness(HRC)',38,{'text-anchor':'middle','font-weight':'bold',transform:'rotate(-90 95 2560)'});
  txt(g,'x-axis-title',736,3015,'Samples',38,{'text-anchor':'middle','font-weight':'bold'});
})();
(function(){
  const g=mk('g',{},'hardness-chart-h2');
  const L=1474,R=2613,sy=lin(30,90,2972,2161),W=R-L;
  barFrame(g,L,R,sy,h2Ticks,5,30,90);
  ln(g,'group-divider',1948,2161,1948,2972,'#777',2);
  ln(g,'group-divider',2388,2161,2388,2972,'#777',2);
  ln(g,'header-divider',L,sy(70.1),R,sy(70.1),'#777',3);
  h2Values.forEach((v,i)=>{
    const cx=L+(i+0.8)*W/10.3;const col=i<4?'#ff0000':(i<8?'#8000ff':'#ffff00');
    mk('rect',{x:cx-28,y:sy(v),width:56,height:sy(30)-sy(v),fill:col,stroke:i>=8?'#bbb':'none','stroke-width':1},'bar-h2-'+i,g);
    errBar(g,cx,sy(v+h2Errors[i]),sy(v-h2Errors[i]),7);
    txt(g,'bar-value-label',cx,sy(v+h2Errors[i])-12,String(v),34,{'text-anchor':'middle','font-weight':'bold'});
    txt(g,'category-label',cx,2410,h2Categories[i],30,{'text-anchor':'middle'});
  });
  [['X431','Ni45',1718],['F901','Ni45',2159],['X431','Mo',2501]].forEach(a=>{txt(g,'group-title',a[2],2260,a[0],34,{'text-anchor':'middle','font-weight':'bold'});txt(g,'group-plus',a[2],2308,'+',34,{'text-anchor':'middle','font-weight':'bold'});txt(g,'group-title-additive',a[2],2356,a[1],34,{'text-anchor':'middle','font-weight':'bold'});});
  const pl=txt(g,'panel-label',1318,2190,'(h',48,{'font-weight':'bold'});mk('tspan',{dy:12,'font-size':30},'subscript',pl,'2');mk('tspan',{dy:-12},'close',pl,')');
  txt(g,'y-axis-title',1390,2570,'Microhardness (HRC)',38,{'text-anchor':'middle','font-weight':'bold',transform:'rotate(-90 1390 2570)'});
  txt(g,'x-axis-title',2042,3030,'Samples',38,{'text-anchor':'middle','font-weight':'bold'});
})();
(function(){
  const g=mk('g',{},'hardness-chart-h3');
  const L=2800,R=3861,sy=lin(30,70,2925,2164),W=R-L;
  barFrame(g,L,R,sy,h3Ticks,5,30,70);
  const series=[[h3AsMachined,'#ff0000','As-machined'],[h3FullAnnealed,'#0000ff','Full annealed'],[h3HighTempering,'#ff00ff','High tempering']];
  h3Groups.forEach((grp,gi)=>{
    const gc=L+(gi+0.5)*W/4;
    series.forEach((s,si)=>{
      const v=s[0][gi];const cx=gc+(si-1)*70;
      mk('rect',{x:cx-35,y:sy(v),width:70,height:sy(30)-sy(v),fill:s[1]},'bar-h3',g);
      errBar(g,cx,sy(v+h3Errors[gi]),sy(v-h3Errors[gi]),6);
      txt(g,'bar-value-label',cx,sy(v+h3Errors[gi])-14,String(v),34,{'text-anchor':'middle','font-weight':'bold'});
    });
    txt(g,'group-label',gc,2968,grp,30,{'text-anchor':'middle','font-weight':'bold'});
  });
  mk('rect',{x:3445,y:2196,width:355,height:141,fill:'#fff',stroke:'#888','stroke-width':2},'legend-box',g);
  series.forEach((s,i)=>{const y=2220+i*46;mk('rect',{x:3457,y:y-18,width:81,height:37,fill:s[1]},'legend-swatch',g);txt(g,'legend-text',3550,y+11,s[2],32);});
  const pl=txt(g,'panel-label',2648,2190,'(h',48,{'font-weight':'bold'});mk('tspan',{dy:12,'font-size':30},'subscript',pl,'3');mk('tspan',{dy:-12},'close',pl,')');
  txt(g,'y-axis-title',2725,2545,'MicroHardness (HRC)',38,{'text-anchor':'middle','font-weight':'bold',transform:'rotate(-90 2725 2545)'});
  txt(g,'x-axis-title',3332,3020,'Samples',38,{'text-anchor':'middle','font-weight':'bold'});
})();
</script>
</body></html>
